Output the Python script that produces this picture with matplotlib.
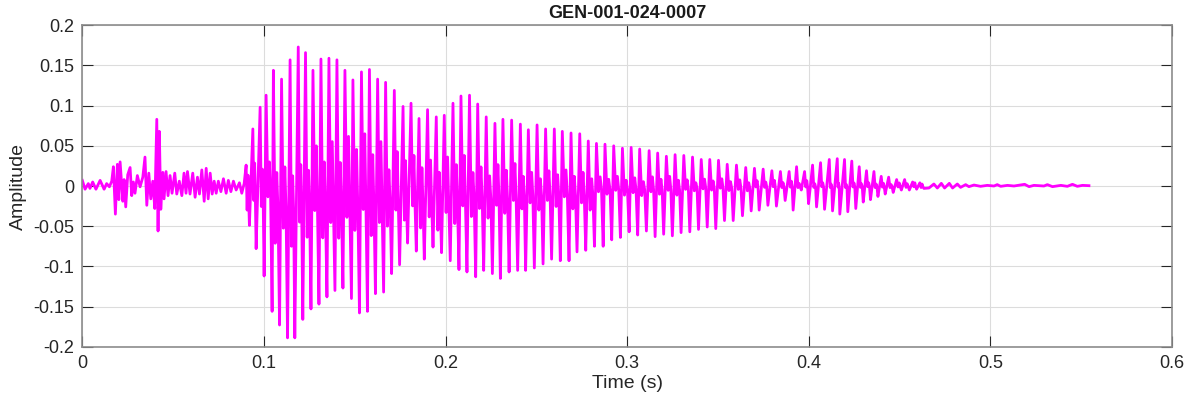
import matplotlib
matplotlib.use("Agg")
import matplotlib.pyplot as plt
import numpy as np

# unvoiced start (0 - 0.09 s): extrema
pre_t = [0.0000, 0.0015, 0.0033, 0.0042, 0.0057, 0.0075, 0.0098, 0.0120, 0.0134, 0.0149,
         0.0162, 0.0171, 0.0182, 0.0193, 0.0201, 0.0208, 0.0223, 0.0230, 0.0239, 0.0250,
         0.0263, 0.0272, 0.0281, 0.0290, 0.0303, 0.0318, 0.0333, 0.0345, 0.0355, 0.0366,
         0.0377, 0.0388, 0.0399, 0.0410, 0.0417, 0.0424, 0.0432, 0.0443, 0.0450, 0.0461,
         0.0472, 0.0483, 0.0494, 0.0509, 0.0520, 0.0534, 0.0548, 0.0560, 0.0571, 0.0579,
         0.0593, 0.0608, 0.0621, 0.0634, 0.0645, 0.0658, 0.0671, 0.0682, 0.0693, 0.0704,
         0.0715, 0.0726, 0.0737, 0.0749, 0.0763, 0.0777, 0.0792, 0.0804, 0.0818, 0.0832,
         0.0847, 0.0865, 0.0878, 0.0891]
pre_v = [0.007, -0.004, 0.003, -0.003, 0.005, -0.004, 0.007, -0.004, 0.003, -0.001,
         0.006, 0.024, -0.035, 0.027, -0.017, 0.030, -0.019, 0.008, -0.026, 0.014,
         0.023, -0.012, 0.005, -0.009, 0.013, -0.001, 0.011, 0.036, -0.024, 0.016,
         -0.016, 0.006, -0.028, 0.083, -0.056, 0.068, -0.029, 0.017, -0.016, 0.018,
         -0.012, 0.013, -0.009, 0.016, -0.010, 0.006, -0.012, 0.016, -0.009, 0.018,
         -0.010, 0.016, -0.014, 0.011, -0.010, 0.020, -0.019, 0.022, -0.016, 0.016,
         -0.010, 0.006, -0.009, 0.006, -0.007, 0.009, -0.009, 0.007, -0.007, 0.006,
         -0.005, 0.004, -0.009, 0.003]

# voiced part: positive peaks of each pitch cycle
peak_t = [0.0902, 0.0939, 0.0979, 0.1012, 0.1052, 0.1097, 0.1144, 0.1189, 0.1229, 0.1270,
          0.1314, 0.1358, 0.1402, 0.1446, 0.1490, 0.1537, 0.1581, 0.1626, 0.1670, 0.1718,
          0.1766, 0.1810, 0.1854, 0.1901, 0.1949, 0.1993, 0.2041, 0.2085, 0.2132, 0.2177,
          0.2224, 0.2272, 0.2316, 0.2364, 0.2412, 0.2456, 0.2504, 0.2551, 0.2599, 0.2643,
          0.2691, 0.2739, 0.2786, 0.2831, 0.2878, 0.2926, 0.2974, 0.3022, 0.3069, 0.3121,
          0.3168, 0.3216, 0.3264, 0.3312, 0.3360, 0.3408, 0.3455, 0.3503, 0.3551, 0.3602,
          0.3653, 0.3701, 0.3749, 0.3797, 0.3844, 0.3892, 0.3933, 0.3977, 0.4021, 0.4065,
          0.4113, 0.4157, 0.4197, 0.4237, 0.4278, 0.4318, 0.4359, 0.4399, 0.4440, 0.4484,
          0.4528, 0.4572, 0.4612]
peak_v = [0.026, 0.071, 0.098, 0.113, 0.144, 0.133, 0.157, 0.173, 0.166, 0.144,
          0.158, 0.159, 0.157, 0.144, 0.132, 0.142, 0.145, 0.133, 0.129, 0.119,
          0.099, 0.103, 0.084, 0.095, 0.086, 0.088, 0.103, 0.112, 0.113, 0.102,
          0.086, 0.078, 0.083, 0.082, 0.077, 0.070, 0.076, 0.071, 0.071, 0.068,
          0.066, 0.065, 0.056, 0.053, 0.052, 0.050, 0.047, 0.048, 0.046, 0.044,
          0.041, 0.037, 0.039, 0.038, 0.036, 0.033, 0.033, 0.032, 0.027, 0.026,
          0.023, 0.022, 0.021, 0.019, 0.018, 0.018, 0.024, 0.018, 0.026, 0.029,
          0.033, 0.034, 0.033, 0.031, 0.024, 0.019, 0.018, 0.012, 0.011, 0.008,
          0.008, 0.005, 0.004]

# negative troughs of each pitch cycle
trough_t = [0.0920, 0.0957, 0.1001, 0.1045, 0.1086, 0.1130, 0.1170, 0.1214, 0.1259, 0.1303,
            0.1347, 0.1391, 0.1435, 0.1482, 0.1526, 0.1570, 0.1614, 0.1659, 0.1703, 0.1747,
            0.1791, 0.1839, 0.1883, 0.1931, 0.1978, 0.2026, 0.2074, 0.2118, 0.2166, 0.2210,
            0.2258, 0.2302, 0.2350, 0.2397, 0.2441, 0.2489, 0.2537, 0.2584, 0.2632, 0.2680,
            0.2724, 0.2772, 0.2820, 0.2868, 0.2915, 0.2963, 0.3011, 0.3058, 0.3106, 0.3154,
            0.3201, 0.3249, 0.3297, 0.3345, 0.3393, 0.3441, 0.3488, 0.3536, 0.3584, 0.3635,
            0.3683, 0.3727, 0.3775, 0.3822, 0.3870, 0.3914, 0.3959, 0.3999, 0.4043, 0.4087,
            0.4131, 0.4171, 0.4215, 0.4259, 0.4300, 0.4340, 0.4381, 0.4421, 0.4465, 0.4510,
            0.4554, 0.4594, 0.4634]
trough_v = [-0.049, -0.078, -0.112, -0.156, -0.173, -0.189, -0.189, -0.166, -0.153, -0.147,
            -0.138, -0.130, -0.127, -0.140, -0.158, -0.156, -0.134, -0.132, -0.109, -0.098,
            -0.071, -0.081, -0.091, -0.076, -0.083, -0.093, -0.104, -0.107, -0.113, -0.105,
            -0.109, -0.115, -0.107, -0.105, -0.105, -0.102, -0.097, -0.091, -0.093, -0.093,
            -0.082, -0.080, -0.075, -0.075, -0.067, -0.064, -0.057, -0.061, -0.056, -0.063,
            -0.060, -0.062, -0.058, -0.057, -0.054, -0.051, -0.053, -0.043, -0.043, -0.037,
            -0.031, -0.030, -0.024, -0.025, -0.018, -0.030, -0.005, -0.022, -0.026, -0.029,
            -0.031, -0.035, -0.032, -0.028, -0.020, -0.017, -0.013, -0.010, -0.008, -0.005,
            -0.005, -0.004, -0.003]

# inner ripple band (upper / lower level) inside each cycle, by time region
band_start = [0.090, 0.105, 0.125, 0.135, 0.165, 0.180, 0.210, 0.240, 0.280, 0.330, 0.370, 0.400]
band_hi = [0.030, 0.028, 0.050, 0.065, 0.045, 0.038, 0.028, 0.020, 0.012, 0.009, 0.007, 0.004]
band_lo = [-0.030, -0.075, -0.068, -0.065, -0.050, -0.055, -0.040, -0.030, -0.012, -0.006, -0.002, -0.002]
# how deep the ripple reaches in successive cycles (repeats)
ripple_scale = [1.0, 0.6, 0.85, 0.45, 0.95, 0.7]

# decaying tail after voicing
tail_t = [0.4662, 0.4689, 0.4708, 0.4730, 0.4748, 0.4774, 0.4792, 0.4818, 0.4836, 0.4864,
          0.4882, 0.4910, 0.4946, 0.4983, 0.5020, 0.5038, 0.5057, 0.5094, 0.5130, 0.5189,
          0.5213, 0.5240, 0.5295, 0.5314, 0.5342, 0.5388, 0.5424, 0.5452, 0.5479, 0.5507,
          0.5543]
tail_v = [-0.0025, 0.0025, -0.0025, 0.0033, -0.0025, 0.0033, -0.0025, 0.0025, -0.0017, 0.0017,
          -0.0008, 0.0012, -0.0004, 0.0008, 0.0000, 0.0017, -0.0004, 0.0008, 0.0000, 0.0021,
          -0.0008, 0.0008, 0.0000, 0.0017, -0.0008, 0.0008, -0.0004, 0.0021, -0.0004, 0.0008,
          0.0004]

# build the voiced waveform: peak -> ripple down -> ripple up -> trough -> next peak
ext = sorted([(t, v, 'p') for t, v in zip(peak_t, peak_v)] +
             [(t, v, 't') for t, v in zip(trough_t, trough_v)])
voiced_t, voiced_v = [], []
n = 0
for i, (t, v, kind) in enumerate(ext):
    voiced_t.append(t)
    voiced_v.append(v)
    if kind == 'p' and i + 1 < len(ext):
        t2 = ext[i + 1][0]
        k = np.searchsorted(band_start, t, side='right') - 1
        s1 = ripple_scale[n % len(ripple_scale)]
        s2 = ripple_scale[(n + 3) % len(ripple_scale)]
        voiced_t += [t + (t2 - t) * 0.3, t + (t2 - t) * 0.55, t + (t2 - t) * 0.75]
        voiced_v += [band_lo[k] * s1, band_hi[k] * s2, band_lo[k] * 0.4]
        n += 1

time = np.concatenate([pre_t, voiced_t, tail_t])
amp = np.concatenate([pre_v, voiced_v, tail_v])

plt.rcParams['font.family'] = ['Liberation Sans', 'DejaVu Sans']

fig = plt.figure(figsize=(11.88, 4.04), dpi=100)
ax = fig.add_axes([0.0693, 0.1418, 0.9172, 0.7956])

ax.plot(time, amp, color='#ff00ff', linewidth=2.0)

ax.set_xlim(0, 0.6)
ax.set_ylim(-0.2, 0.2)
xt = np.arange(0, 0.61, 0.1)
yt = np.arange(-0.2, 0.201, 0.05)
ax.set_xticks(xt)
ax.set_yticks(yt)
ax.set_xticklabels(['0', '0.1', '0.2', '0.3', '0.4', '0.5', '0.6'])
ax.set_yticklabels(['-0.2', '-0.15', '-0.1', '-0.05', '0', '0.05', '0.1', '0.15', '0.2'])
ax.tick_params(direction='in', length=8, width=0.8, color='#262626', labelcolor='#262626',
               labelsize=13, top=True, right=True, pad=6)
ax.grid(True, color='#dcdcdc', linewidth=0.8)
for s in ax.spines.values():
    s.set_color('#8c8c8c')
    s.set_linewidth(1.2)

ax.set_xlabel('Time (s)', fontsize=14, color='#262626', labelpad=2)
ax.set_ylabel('Amplitude', fontsize=14, color='#262626', labelpad=4)
ax.set_title('GEN-001-024-0007', fontsize=13, fontweight='bold', color='#1a1a1a', pad=5)

plt.savefig('out.png', dpi=100)
